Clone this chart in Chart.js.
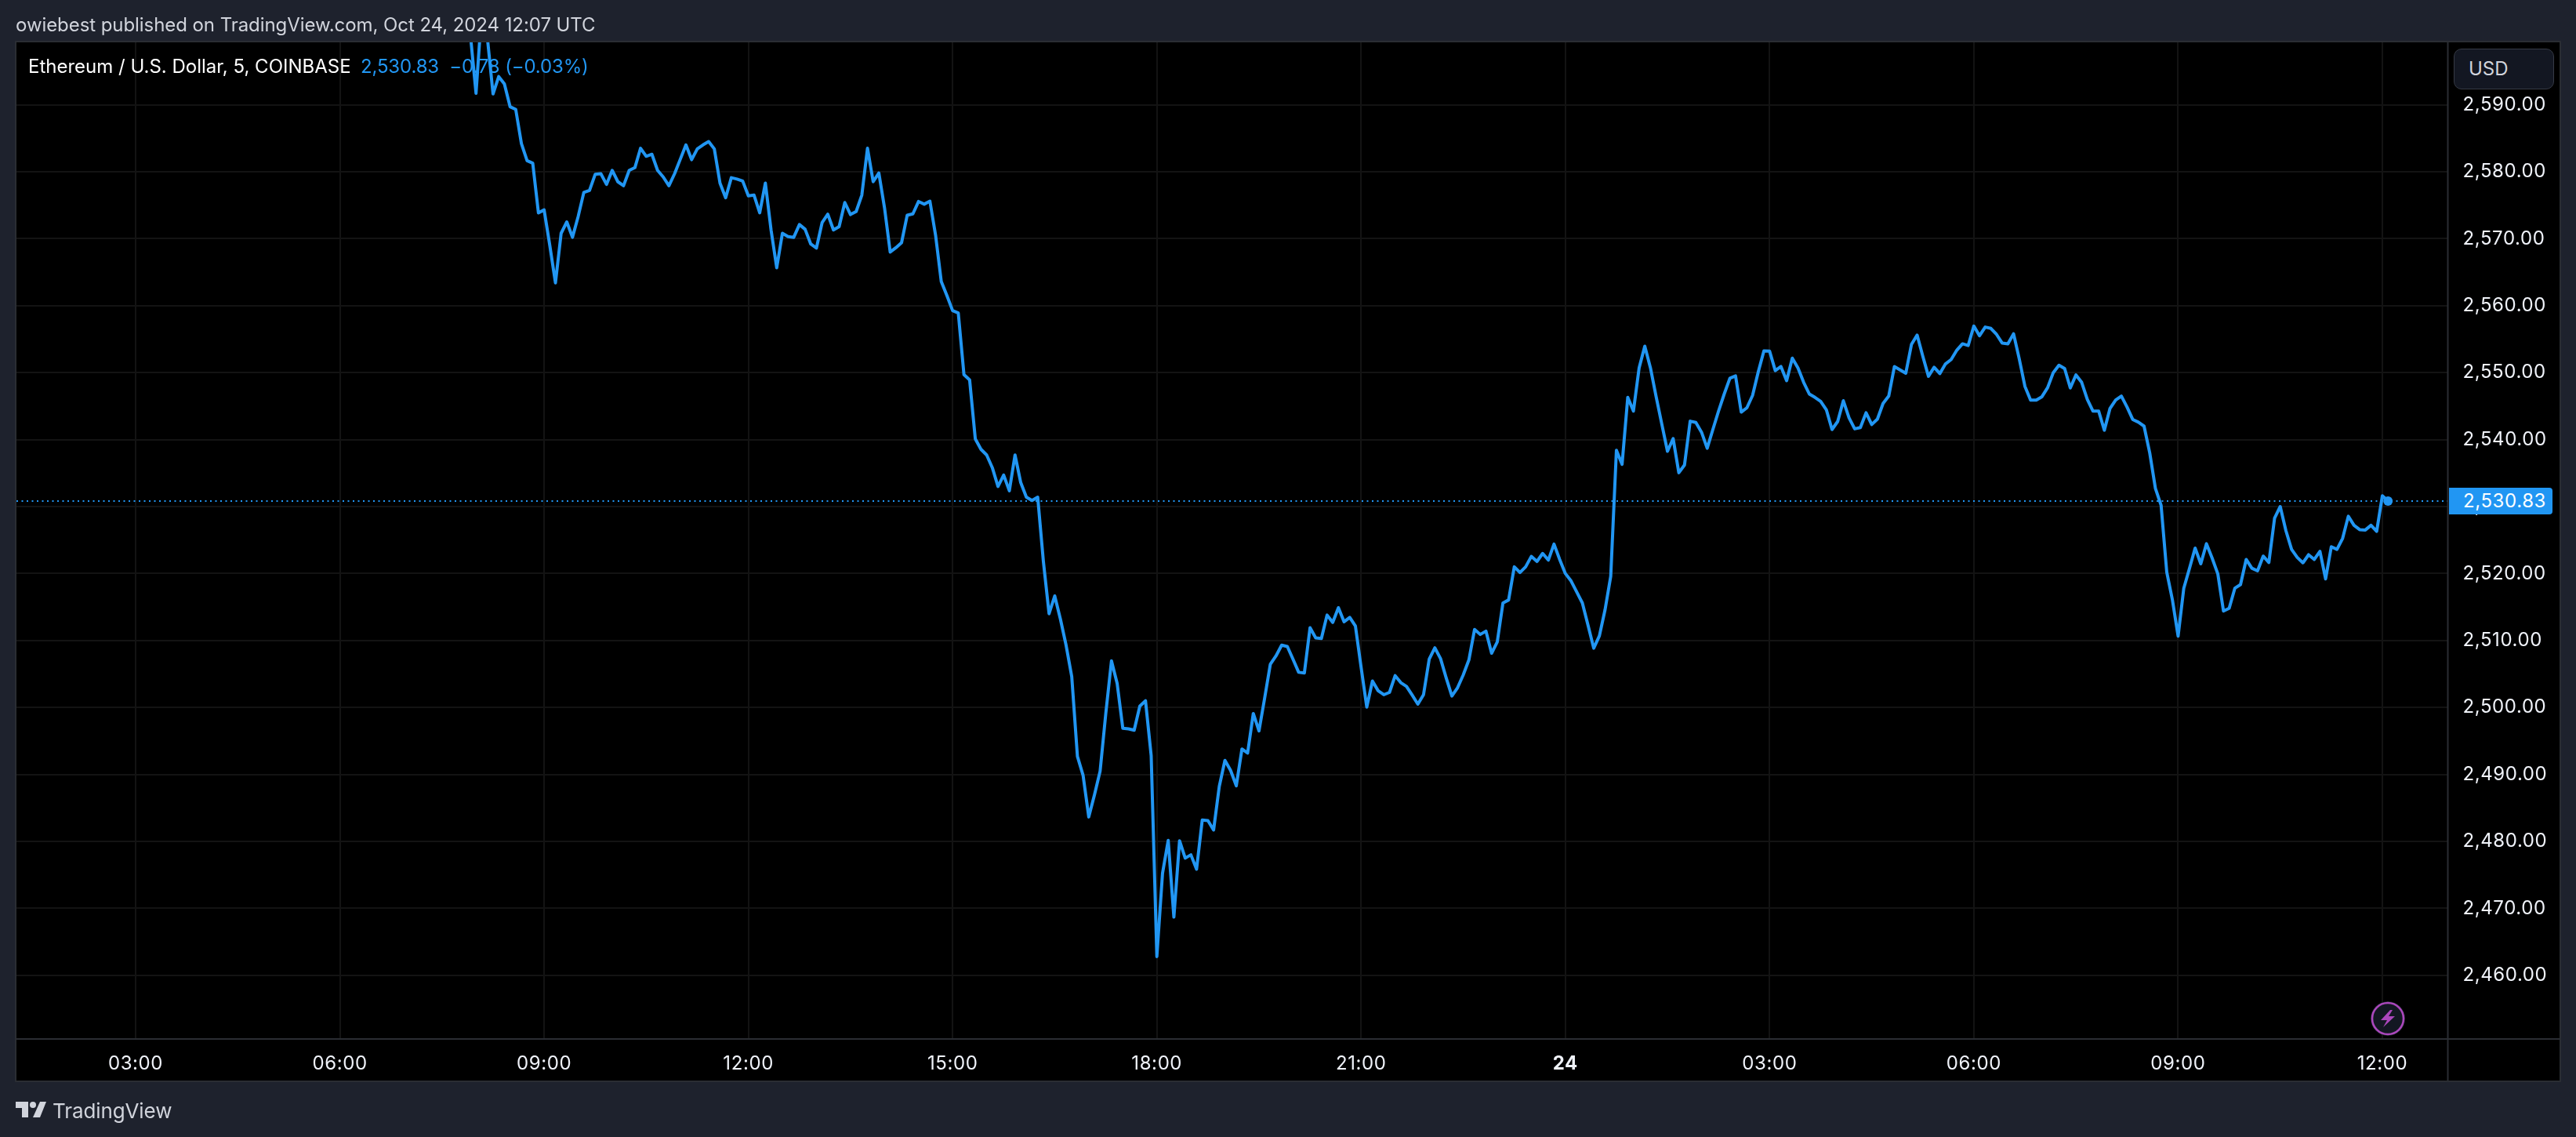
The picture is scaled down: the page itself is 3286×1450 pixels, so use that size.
<!DOCTYPE html>
<html><head><meta charset="utf-8">
<script src="https://cdn.jsdelivr.net/npm/chart.js@4"></script>
<style>
html,body{margin:0;padding:0;background:#1e222d;width:3286px;height:1450px;overflow:hidden}
#wrap{position:relative;width:3286px;height:1450px}
canvas{position:absolute;left:0;top:0}
.t{position:absolute;font-family:Inter,"Open Sans",sans-serif;white-space:pre;line-height:1}
</style></head><body>
<div id="wrap">
<canvas id="c" width="3286" height="1450"></canvas>
<div class="t" style="left:20px;top:20px;font-size:24px;color:#d1d4dc;letter-spacing:-.07px" id="pub">owiebest published on TradingView.com, Oct 24, 2024 12:07 UTC</div>
<div class="t" style="left:36px;top:73px;font-size:24px;color:#fff" id="sym">Ethereum / U.S. Dollar, 5, COINBASE</div>
<div class="t" style="left:460px;top:73px;font-size:24px;color:#2196f3;letter-spacing:-.15px" id="ohlc">2,530.83  −0.78 (−0.03%)</div>
<div class="t" style="left:3130px;top:62px;width:128px;height:52px;box-sizing:border-box;background:#131722;border:1.5px solid #363a45;border-radius:10px;font-size:24px;line-height:49px;padding-left:18px;color:#d1d4dc">USD</div>
<div class="t" style="left:3124px;top:622px;width:132px;height:34px;box-sizing:border-box;background:#2196f3;border-radius:0 4px 4px 0;font-size:24px;line-height:34px;padding-left:18px;color:#fff;letter-spacing:.6px">2,530.83</div>
<svg style="position:absolute;left:3022px;top:1275px" width="48" height="48" viewBox="0 0 48 48">
<circle cx="24" cy="24" r="22" fill="#1e222d"/><circle cx="24" cy="24" r="20" fill="#131722" stroke="#ab47bc" stroke-width="2.6"/>
<path d="M27 13 L15 26 L23 26 L18 35 L33 21 L25 21 L30 13 Z" fill="#ab47bc"/></svg>
<svg style="position:absolute;left:20px;top:1404px" width="40" height="22" viewBox="0 0 40 22" fill="#d1d4dc">
<path d="M0 1h16v20H8V9H0z"/><circle cx="22" cy="5" r="4"/><path d="M31 1h8l-8 20h-9z"/></svg>
<div class="t" style="left:67px;top:1404px;font-size:26px;letter-spacing:-.1px;color:#d1d4dc" id="logo">TradingView</div>
</div>
<script>
// Bars: one close every 5 minutes. firstBarMinute is counted from 00:00 on Oct 23.
const firstBarMinute = 475;
const barMinutes = 5;
const closes = [
2600.5,2591.7,2604,2600,2591.6,2594.2,2593.1,2589.7,2589.3,2584.2,2581.65,2581.26,2573.85,
2574.3,2569.0,2563.4,2570.8,2572.5,2570.2,2573.3,2576.9,2577.2,2579.6,2579.7,2578.1,2580.2,2578.5,2577.9,2580.2,2580.6,2583.5,2582.3,2582.6,2580.2,2579.2,2577.9,2579.7,2581.85,2584.0,2581.8,2583.4,2584.0,2584.5,2583.4,2578.3,2576.1,2579.1,2578.9,2578.6,2576.4,2576.5,2573.85,2578.3,2571.3,2565.65,2570.8,2570.3,2570.2,2572.1,2571.4,2569.2,2568.6,2572.4,2573.65,2571.3,2571.8,2575.4,2573.6,2574.05,2576.5,2583.5,2578.5,2579.8,2574.6,2568.0,2568.65,2569.4,2573.5,2573.7,2575.55,2575.15,2575.6,2570.5,2563.6,2561.5,
2559.25,2558.9,2549.7,2548.9,2540.1,2538.55,2537.7,2535.8,2533.0,2534.7,2532.35,2537.7,2533.6,2531.4,2530.9,2531.4,2521.8,2514.0,2516.65,2513.2,2509.3,2504.6,2492.7,2489.85,2483.65,2486.95,2490.5,2499.1,2506.95,2503.6,2496.9,2496.8,2496.6,2500.2,2501.0,2492.8,
2462.8,2475.25,2480.15,2468.7,2480.1,2477.5,2478.0,2475.85,2483.2,2483.1,2481.7,2488.2,2492.1,2490.6,2488.3,2493.8,2493.2,2499.1,2496.5,2501.4,2506.45,2507.7,2509.3,2509.1,2507.2,2505.25,2505.15,2511.9,2510.4,2510.3,2513.8,2512.7,2514.9,2512.8,2513.45,2512.15,2506,2500.05,2503.95,2502.5,2501.9,2502.25,2504.75,2503.7,2503.15,2501.85,2500.5,2501.9,2507.2,2508.9,2507.3,2504.4,2501.7,2502.95,2504.85,2507.1,2511.65,2510.9,2511.4,2508.1,2509.8,2515.6,2516.05,2521.0,2520.15,2521.0,2522.55,2521.8,2523.0,2522.0,2524.4,2522.1,2520.0,2518.9,2517.25,2515.6,2512.25,2508.85,2510.7,2514.6,2519.6,
2538.4,2536.3,2546.3,2544.25,2550.7,2553.95,2550.7,2546.4,2542.3,2538.25,2540.15,2535.05,2536.2,2542.75,2542.55,2541.1,2538.7,2541.5,2544.25,2546.8,2549.15,2549.5,2544.1,2544.75,2546.6,2550.1,2553.25,2553.2,2550.3,2550.9,2548.8,2552.15,2550.7,2548.55,2546.8,2546.3,2545.7,2544.45,2541.5,2542.7,2545.8,2543.25,2541.6,2541.8,2544.0,2542.25,2543.05,2545.4,2546.5,2550.9,2550.4,2549.9,2554.2,2555.6,2552.45,2549.45,2550.8,2549.85,2551.3,2551.95,2553.35,2554.3,2554.05,2556.95,2555.5,2556.8,2556.6,2555.7,2554.4,2554.3,2555.8,2552.05,2547.95,2545.9,2545.9,2546.4,2547.75,2550.0,2551.1,2550.6,2547.7,2549.65,2548.55,2546.0,2544.25,2544.25,2541.4,2544.65,2545.9,2546.5,2544.85,2543.0,2542.6,2542.0,2538.0,2532.7,2530.2,2520.2,2516.05,
2510.65,2517.8,2520.75,2523.8,2521.45,2524.45,2522.3,2519.95,2514.4,2514.8,2517.8,2518.35,2522.1,2520.8,2520.4,2522.6,2521.65,2528.25,2530.0,2526.4,2523.6,2522.4,2521.6,2522.8,2522.1,2523.3,2519.2,2524.0,2523.6,2525.25,2528.55,2527.2,2526.55,2526.5,2527.2,2526.3,2531.6,2530.83
];
const lastPrice = 2530.83;
const priceTicks = [2460,2470,2480,2490,2500,2510,2520,2530,2540,2550,2560,2570,2580,2590];
const timeTickMinutes = [180,360,540,720,900,1080,1260,1440,1620,1800,1980,2160];
const timeTickLabels = ["03:00","06:00","09:00","12:00","15:00","18:00","21:00","24","03:00","06:00","09:00","12:00"];
const boldTimeLabel = "24";

const points = closes.map((v,i)=>({x:firstBarMinute+i*barMinutes,y:v}));
const BLUE='#2196f3', GRID='#131313', FRAME='#2a2d33', PAGE='#1e222d';
const font='Inter,"Open Sans",sans-serif';

const panel={id:'panel',
 beforeDraw(ch){const g=ch.ctx;
  g.save();
  g.fillStyle=PAGE;g.fillRect(0,0,3286,1450);
  g.fillStyle='#000';g.fillRect(21,53,3245,1326);
  g.restore();
  g.letterSpacing='0.6px';},
 afterDraw(ch){const g=ch.ctx,a=ch.chartArea;
  const last=points[points.length-1];
  const px=ch.scales.x.getPixelForValue(last.x),py=ch.scales.y.getPixelForValue(last.y);
  g.save();
  g.fillStyle=BLUE;g.beginPath();g.arc(px,py,6,0,Math.PI*2);g.fill();
  g.strokeStyle=FRAME;g.lineWidth=2;
  g.strokeRect(20,53,3246,1326);
  g.beginPath();
  g.moveTo(a.right,53);g.lineTo(a.right,1379);
  g.moveTo(20,a.bottom);g.lineTo(3266,a.bottom);
  g.stroke();
  g.restore();}
};

new Chart(document.getElementById('c'),{
 type:'line',
 data:{datasets:[
  {label:'ETHUSD',data:points,borderColor:BLUE,borderWidth:4,pointRadius:0,tension:0,borderJoinStyle:'round',borderCapStyle:'round',order:1},
  {label:'Last',data:[{x:75,y:lastPrice},{x:2218,y:lastPrice}],borderColor:BLUE,borderWidth:2,borderDash:[2,4.5],pointRadius:0,order:2}
 ]},
 options:{
  responsive:false,animation:false,devicePixelRatio:1,
  layout:{padding:{left:21,top:53.5,right:0,bottom:70.5}},
  plugins:{legend:{display:false},tooltip:{enabled:false}},
  scales:{
   x:{type:'linear',min:75,max:2217.7,
      afterBuildTicks(s){s.ticks=timeTickMinutes.map(v=>({value:v}));},
      afterFit(s){s.height=54.5;},
      grid:{color:GRID,lineWidth:2,drawTicks:false},border:{display:false},
      ticks:{autoSkip:false,maxRotation:0,padding:17,color:'#f0f3fa',
        font:c=>({family:font,size:24,weight:c.index===timeTickLabels.indexOf(boldTimeLabel)?'700':'400'}),
        callback:(v,i)=>timeTickLabels[i]}},
   y:{type:'linear',position:'right',min:2450.5,max:2599.37,
      afterBuildTicks(s){s.ticks=priceTicks.map(v=>({value:v}));},
      afterFit(s){s.width=163.5;},
      grid:{color:GRID,lineWidth:2,drawTicks:false},border:{display:false},
      ticks:{autoSkip:false,padding:19,color:'#f0f3fa',align:'center',crossAlign:'near',
        font:{family:font,size:24},
        callback:v=>v.toLocaleString('en-US',{minimumFractionDigits:2,maximumFractionDigits:2})}}
  }
 },
 plugins:[panel]
});
</script>
</body></html>
